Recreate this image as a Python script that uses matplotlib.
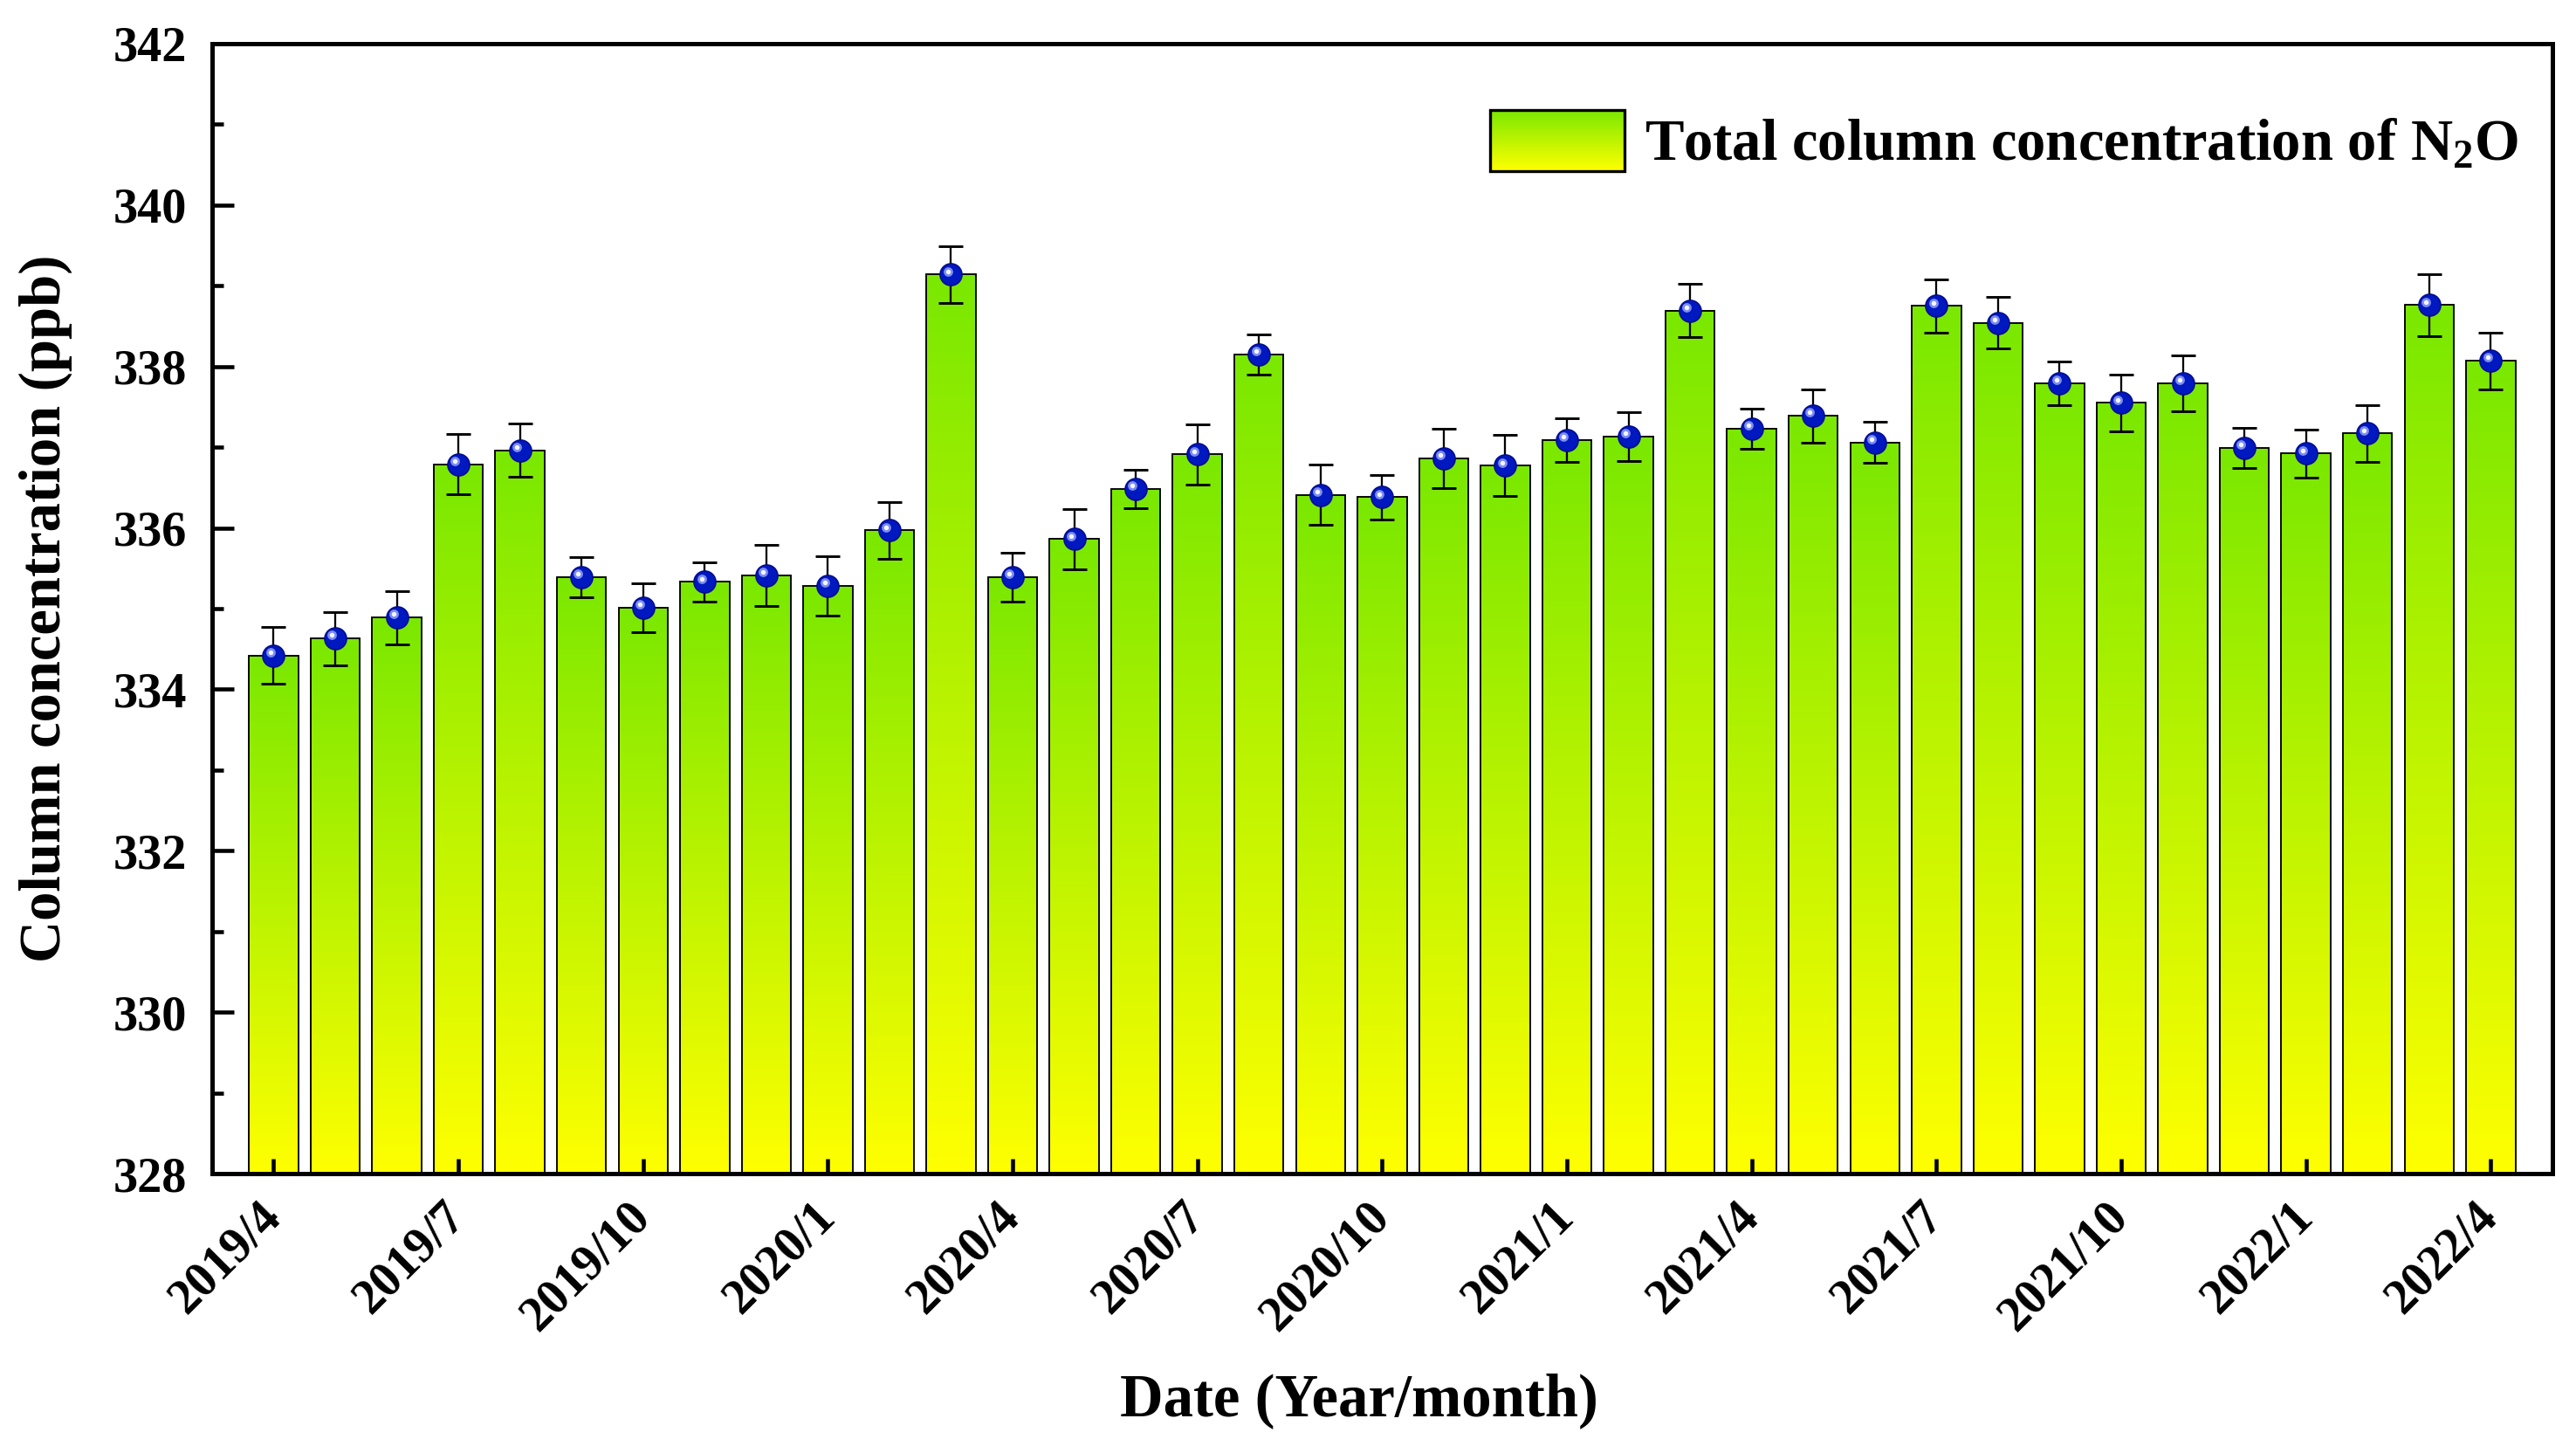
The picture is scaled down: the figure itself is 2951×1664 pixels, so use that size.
import numpy as np
import matplotlib
matplotlib.use('Agg')
import matplotlib.pyplot as plt
from matplotlib.colors import LinearSegmentedColormap
from matplotlib.patches import Rectangle
from matplotlib.legend_handler import HandlerBase
from matplotlib.transforms import ScaledTranslation
from matplotlib.ticker import MultipleLocator

# ---------------- data ----------------
months = ['2019/4', '2019/5', '2019/6', '2019/7', '2019/8', '2019/9', '2019/10', '2019/11', '2019/12',
          '2020/1', '2020/2', '2020/3', '2020/4', '2020/5', '2020/6', '2020/7', '2020/8', '2020/9',
          '2020/10', '2020/11', '2020/12', '2021/1', '2021/2', '2021/3', '2021/4', '2021/5', '2021/6',
          '2021/7', '2021/8', '2021/9', '2021/10', '2021/11', '2021/12', '2022/1', '2022/2', '2022/3',
          '2022/4']
values = [334.42, 334.63, 334.89, 336.79, 336.96, 335.39, 335.01, 335.33, 335.41, 335.28,
          335.97, 339.14, 335.39, 335.86, 336.48, 336.91, 338.15, 336.41, 336.38, 336.86,
          336.77, 337.09, 337.13, 338.69, 337.23, 337.39, 337.06, 338.75, 338.54, 337.79,
          337.55, 337.79, 336.99, 336.92, 337.17, 338.76, 338.07]
errors = [0.35, 0.33, 0.33, 0.37, 0.33, 0.25, 0.30, 0.24, 0.38, 0.37,
          0.35, 0.35, 0.30, 0.37, 0.24, 0.37, 0.25, 0.37, 0.28, 0.37,
          0.38, 0.27, 0.30, 0.33, 0.25, 0.33, 0.25, 0.33, 0.32, 0.27,
          0.35, 0.35, 0.25, 0.30, 0.35, 0.38, 0.35]
tick_step = 3
legend_label = 'Total column concentration of N$_{2}$O'
x_label = 'Date (Year/month)'
y_label = 'Column concentration (ppb)'

# ---------------- style ----------------
plt.rcParams['font.family'] = ['Liberation Serif', 'DejaVu Serif']
plt.rcParams['font.weight'] = 'bold'
plt.rcParams['mathtext.fontset'] = 'custom'
plt.rcParams['mathtext.rm'] = 'Liberation Serif:bold'
plt.rcParams['mathtext.it'] = 'Liberation Serif:bold'
plt.rcParams['mathtext.bf'] = 'Liberation Serif:bold'

cmap = LinearSegmentedColormap.from_list('gy', ['#FFFF00', '#7AE800'])
grad = np.linspace(0, 1, 256).reshape(-1, 1)

fig = plt.figure(figsize=(2951 / 300, 1664 / 300), dpi=300)
ax = fig.add_axes([0.0823, 0.1923, 0.9085, 0.7777])

x = np.arange(len(values))
bar_w = 0.8
ymin, ymax = 328, 342

for xi, v in zip(x, values):
    ax.imshow(grad, extent=(xi - bar_w / 2, xi + bar_w / 2, ymin, v), cmap=cmap,
              aspect='auto', origin='lower', zorder=1, interpolation='bilinear')

ax.bar(x, values, width=bar_w, fill=False, edgecolor='black', linewidth=0.45, zorder=2)
ax.errorbar(x, values, yerr=errors, fmt='none', ecolor='black', elinewidth=0.55,
            capsize=3.4, capthick=0.7, zorder=3)
ax.plot(x, values, 'o', ms=6.0, mfc='#0018C0', mec='#000C90', mew=0.4, zorder=4)
hl = ax.transData + ScaledTranslation(-0.9 / 72, 0.9 / 72, fig.dpi_scale_trans)
ax.plot(x, values, 'o', ms=2.6, mfc='#7C8CF0', mec='none', transform=hl, zorder=5)
ax.plot(x, values, 'o', ms=1.3, mfc='#F4F6FF', mec='none', transform=hl, zorder=6)

ax.set_xlim(-1, len(values))
ax.set_ylim(ymin, ymax)
ax.set_xticks(x[::tick_step])
ax.set_xticklabels(months[::tick_step], rotation=45, ha='right', va='center',
                   rotation_mode='anchor', fontsize=13.5, fontweight='bold')
ax.yaxis.set_major_locator(MultipleLocator(2))
ax.yaxis.set_minor_locator(MultipleLocator(1))
for lab in ax.get_yticklabels():
    lab.set_fontsize(13.5)
    lab.set_fontweight('bold')

ax.tick_params(axis='x', which='both', direction='in', length=4, width=1.1, pad=10,
               top=False, bottom=True)
ax.tick_params(axis='y', which='major', direction='in', length=6, width=1.1, pad=7,
               right=False, left=True)
ax.tick_params(axis='y', which='minor', direction='in', length=3, width=1.1,
               right=False, left=True)
for s in ax.spines.values():
    s.set_linewidth(1.2)

ax.set_xlabel(x_label, fontsize=16.5, fontweight='bold')
ax.xaxis.set_label_coords(0.49, -0.176)
ax.set_ylabel(y_label, fontsize=16, fontweight='bold', labelpad=11)


class GradientHandler(HandlerBase):
    def create_artists(self, legend, orig_handle, xdescent, ydescent, width, height,
                       fontsize, trans):
        n = 60
        arts = []
        for i in range(n):
            r = Rectangle((-xdescent, -ydescent + height * i / n), width, height / n * 1.2,
                          facecolor=cmap(i / (n - 1)), edgecolor='none',
                          antialiased=False, transform=trans)
            arts.append(r)
        arts.append(Rectangle((-xdescent, -ydescent), width, height, fill=False,
                              edgecolor='black', linewidth=0.8, transform=trans))
        return arts


proxy = Rectangle((0, 0), 1, 1)
ax.legend([proxy], [legend_label], handler_map={Rectangle: GradientHandler()},
          loc='upper right', bbox_to_anchor=(0.9955, 0.962), frameon=False,
          prop={'size': 16, 'weight': 'bold'},
          handlelength=2.3, handleheight=1.25, handletextpad=0.35,
          borderaxespad=0.0, borderpad=0.4)

fig.savefig('out.png', dpi=300)
